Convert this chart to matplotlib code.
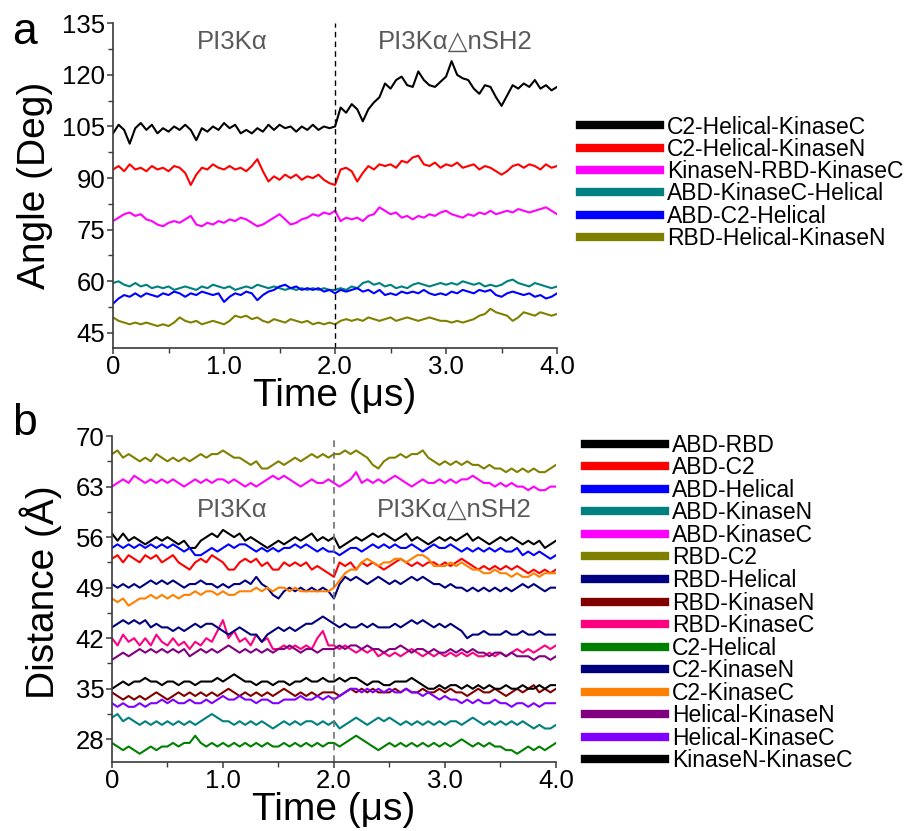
import numpy as np
import matplotlib
matplotlib.use("Agg")
import matplotlib.pyplot as plt
from matplotlib.ticker import MultipleLocator, FixedLocator

plt.rcParams['font.family'] = ['Liberation Sans', 'DejaVu Sans']

# ---------------- data ----------------
time = np.linspace(0.0, 4.0, 81)  # microseconds, 0.05 us step

# Panel a: angles (deg)
angle_labels = ["C2-Helical-KinaseC", "C2-Helical-KinaseN", "KinaseN-RBD-KinaseC",
                "ABD-KinaseC-Helical", "ABD-C2-Helical", "RBD-Helical-KinaseN"]
angle_colors = ["#000000", "#FF0000", "#FF00FF", "#008080", "#0000FF", "#808000"]

c2_helical_kinasec = [
    103, 105.5, 104, 100, 104.5, 106, 104, 105.5, 103, 104.5,
    103.5, 105, 104, 105.5, 104, 101, 104.5, 103.5, 105, 104,
    106, 104.5, 105.5, 103, 104, 103, 104.5, 103.5, 105.5, 104,
    105.5, 104.5, 105, 103.5, 105, 104, 105.5, 104, 105, 104.5,
    105, 110.5, 109, 111.5, 110, 106.5, 110, 112, 113.5, 117.5,
    116, 118.5, 119.5, 117, 116.5, 121, 118.5, 117, 116.5, 118,
    119.5, 124, 120, 119, 118.5, 116, 114.5, 117, 116.5, 113.5,
    111, 114, 117, 116, 117.5, 116.5, 118.5, 116, 117, 115.5, 116.5]
c2_helical_kinasen = [
    92.5, 93.5, 92, 94, 92.5, 93, 92, 93.5, 92.5, 93,
    92, 93.5, 93, 91.5, 88, 91, 93, 92.5, 94, 93,
    92.5, 93.5, 92.5, 93, 92, 93.5, 95.5, 92, 89, 90.5,
    89.5, 91, 90, 91, 89.5, 90.5, 90, 91, 89.5, 88.5,
    88, 92.5, 93, 92, 89, 91.5, 93.5, 92.5, 94, 93.5,
    94, 93, 95, 94.5, 96, 96.5, 94, 93.5, 94.5, 93,
    94, 93.5, 94.5, 93, 93.5, 94, 92.5, 93.5, 93, 92,
    91, 92, 93.5, 94, 93, 94, 93.5, 92.5, 94, 93, 93.5]
kinasen_rbd_kinasec = [
    77.5, 78.5, 79.5, 80, 79, 79.5, 78, 77.5, 76.5, 76,
    77, 77.5, 77, 78, 79, 76.5, 76, 77, 76.5, 77.5,
    77, 78, 77.5, 78.5, 78, 77, 76, 76.5, 77.5, 78.5,
    79.5, 78, 76.5, 77, 78, 78.5, 79.5, 79, 80, 79.5,
    80.5, 77.5, 78.5, 78, 78.5, 77.5, 79, 79.5, 81.5, 80.5,
    79.5, 80, 78.5, 79, 78, 79, 78.5, 79.5, 79, 80,
    80.5, 79.5, 79, 78.5, 79.5, 79, 80, 79.5, 80.5, 79.5,
    80, 80.5, 80, 81, 80.5, 80, 80.5, 81, 81.5, 80.5, 79.5]
abd_kinasec_helical = [
    59.5, 60, 59, 58.5, 59.5, 58.5, 59, 58, 58.5, 58,
    58.5, 57.5, 58, 58.5, 58, 57.5, 58.5, 58, 59, 58.5,
    58, 58.5, 57.5, 58, 58.5, 58, 59, 58.5, 58, 58.5,
    58, 57.5, 58, 57.5, 58, 57.5, 58, 57.5, 58, 57.5,
    57.5, 58, 57.5, 58.5, 58, 59.5, 60, 59, 59.5, 58.5,
    59, 58, 58.5, 58, 59, 59.5, 59, 58.5, 59, 59.5,
    59, 59.5, 59, 60, 59.5, 59, 59.5, 58.5, 59, 58.5,
    59, 60, 60.5, 59.5, 59, 58.5, 59.5, 59, 58.5, 58, 58.5]
abd_c2_helical = [
    53.5, 55, 56, 55.5, 56.5, 55.5, 56.5, 56, 55.5, 56.5,
    56, 57, 56.5, 55.5, 56.5, 56, 57, 56.5, 56, 56.5,
    54, 55.5, 56.5, 56, 57, 56.5, 54.5, 56, 57, 57.5,
    58.5, 59, 58, 58.5, 57.5, 58, 57.5, 58, 57, 57.5,
    56.5, 57.5, 57, 57.5, 58, 57, 57.5, 56.5, 57.5, 56,
    56.5, 56, 57, 56.5, 57, 56.5, 57.5, 56.5, 56, 56.5,
    56, 57, 56.5, 57.5, 57, 56.5, 57.5, 57, 57.5, 56,
    55.5, 56.5, 57, 56.5, 56, 56.5, 55.5, 56, 55, 55.5, 56.5]
rbd_helical_kinasen = [
    49.5, 48.5, 48, 47.5, 48, 47.5, 48, 47.5, 47, 47.5,
    47, 48, 49.5, 48.5, 48, 48.5, 47.5, 48, 48.5, 48,
    47.5, 48.5, 50, 49.5, 50, 49, 49.5, 48.5, 48, 49,
    48.5, 48, 49, 48.5, 48, 48.5, 47.5, 48, 47.5, 48,
    47.5, 48.5, 49, 48.5, 49, 48.5, 49.5, 49, 48.5, 49,
    49.5, 48.5, 49, 49.5, 49, 48.5, 49, 49.5, 49, 48.5,
    48.5, 48, 48.5, 48, 48.5, 49, 50, 50.5, 52, 51,
    50.5, 50, 48.5, 49.5, 51, 50.5, 50, 51, 50.5, 50, 50.5]
angle_series = [c2_helical_kinasec, c2_helical_kinasen, kinasen_rbd_kinasec,
                abd_kinasec_helical, abd_c2_helical, rbd_helical_kinasen]

# Panel b: distances (Angstrom)
dist_labels = ["ABD-RBD", "ABD-C2", "ABD-Helical", "ABD-KinaseN", "ABD-KinaseC",
               "RBD-C2", "RBD-Helical", "RBD-KinaseN", "RBD-KinaseC", "C2-Helical",
               "C2-KinaseN", "C2-KinaseC", "Helical-KinaseN", "Helical-KinaseC",
               "KinaseN-KinaseC"]
dist_colors = ["#000000", "#FF0000", "#0000FF", "#008080", "#FF00FF",
               "#808000", "#000080", "#800000", "#FF0080", "#008000",
               "#00007F", "#FF8000", "#800080", "#8000FF", "#000000"]

abd_rbd = [
    56.5, 55.5, 56.5, 55.5, 56, 55.5, 55, 55.5, 56, 55.5,
    56, 55.5, 55, 55.5, 54.5, 54.5, 55.5, 56, 56.5, 56,
    57, 56.5, 56, 56.5, 55.5, 56, 55.5, 55, 54.5, 55,
    55.5, 55, 55.5, 56, 55.5, 56, 56.5, 55.5, 56, 55.5,
    56, 54.5, 55, 55.5, 56, 55.5, 56, 56.5, 56, 56.5,
    56, 55.5, 56, 56.5, 55.5, 56, 55.5, 55, 55.5, 56,
    55.5, 56, 55.5, 56, 56.5, 55.5, 56, 55.5, 55, 55.5,
    56, 55.5, 56, 55.5, 55, 55.5, 55, 55.5, 54.5, 55, 55.5]
abd_c2 = [
    53, 53.5, 52.5, 53.5, 53, 52.5, 53.5, 53, 53.5, 52.5,
    53, 53.5, 52.5, 52, 51.5, 52.5, 53, 52.5, 53.5, 53,
    52.5, 51.5, 51.5, 52.5, 53, 52.5, 53, 52, 52.5, 51.5,
    51.5, 52.5, 52, 52.5, 52, 52.5, 51.5, 52, 51.5, 51,
    50.5, 52.5, 52, 52.5, 51.5, 52.5, 52, 52.5, 52, 51.5,
    52, 52.5, 53, 52.5, 52, 52.5, 52, 52.5, 52.5, 52,
    52.5, 52, 52.5, 53, 52.5, 52, 51.5, 52, 51.5, 52,
    51.5, 52, 51.5, 52, 51.5, 51, 51.5, 51, 51.5, 51, 51.5]
abd_helical = [
    54.5, 55, 54.5, 55, 54.5, 55, 54.5, 55, 54.5, 55,
    54.5, 55, 54.5, 54, 54.5, 53.5, 53.5, 54, 54.5, 54,
    54.5, 55, 54.5, 55, 55, 54.5, 54, 54.5, 54, 54.5,
    54, 54.5, 54.5, 55, 54.5, 55, 54.5, 54, 54.5, 54,
    54, 53.5, 54, 54.5, 54.5, 54, 54.5, 55, 54.5, 55,
    54.5, 55, 54.5, 54.5, 55, 54.5, 54, 54.5, 55, 54.5,
    54.5, 55, 54.5, 54, 54.5, 54, 54.5, 54, 54.5, 54,
    54.5, 54, 54, 54.5, 53.5, 54, 53.5, 54, 53.5, 53, 53.5]
abd_kinasen = [
    31, 31.5, 30.5, 31, 30.5, 30, 30.5, 30, 30.5, 30,
    30.5, 30, 30.5, 30, 30.5, 30, 30.5, 31, 31.5, 31,
    30.5, 30.5, 30, 30.5, 30, 30.5, 30, 30.5, 30, 29.5,
    30, 30.5, 30, 30.5, 30, 30.5, 30.5, 30, 30.5, 30,
    30.5, 29.5, 30, 30.5, 31, 30.5, 30, 30.5, 31, 30.5,
    31, 30.5, 30, 30.5, 30, 30.5, 30, 30.5, 30, 30.5,
    30, 30.5, 30.5, 30, 30.5, 31, 30.5, 30, 30.5, 30,
    30.5, 30, 30.5, 30, 30.5, 30, 29.5, 30, 29.5, 29.5, 30]
abd_kinasec = [
    63, 63.5, 64, 63.5, 64.5, 64, 63.5, 64, 63.5, 64,
    63.5, 64, 63.5, 63, 63.5, 64, 63.5, 64, 63.5, 64,
    64, 63.5, 64, 63.5, 63, 63.5, 63, 63.5, 64, 64.5,
    64, 64.5, 64, 63.5, 63, 63.5, 64, 63.5, 63.5, 64,
    63.5, 63, 63.5, 64, 65, 63.5, 64, 63.5, 64, 63.5,
    64, 64.5, 64, 63.5, 63, 63.5, 64, 63.5, 63.5, 64,
    63.5, 64, 63.5, 64, 64, 64.5, 64, 63.5, 63.5, 63,
    63.5, 63, 63.5, 63, 63, 62.5, 63, 62.5, 62.5, 63, 63]
rbd_c2 = [
    67.5, 68, 67, 67.5, 67, 66.5, 67, 66.5, 67.5, 67,
    66.5, 67, 66.5, 67, 66.5, 67, 67.5, 67, 67.5, 67.5,
    68, 67.5, 67, 67, 66.5, 66, 66.5, 65.5, 65.5, 66,
    66.5, 66, 66.5, 67, 66.5, 67, 67.5, 67, 67.5, 67,
    67.5, 67.5, 68, 67.5, 68, 67.5, 67, 66, 65.5, 66.5,
    67, 67, 67.5, 67, 67.5, 67.5, 68, 67, 66.5, 66,
    66.5, 66, 66.5, 66, 66.5, 66, 66, 65.5, 66, 65.5,
    65.5, 65, 65.5, 65, 65.5, 65, 65.5, 65, 65, 65.5, 66]
rbd_helical = [
    49.5, 49, 49.5, 49, 49.5, 49, 49.5, 50, 49.5, 50,
    49.5, 50, 49.5, 49, 49.5, 49.5, 50, 49.5, 49.5, 49,
    49.5, 49, 49.5, 49.5, 50, 49.5, 50.5, 49.5, 49, 48,
    47.5, 48.5, 49, 48.5, 49, 48.5, 49, 48.5, 49, 48.5,
    47.5, 49.5, 50.5, 50, 50.5, 50, 49.5, 50, 50.5, 50,
    49.5, 50, 49.5, 50, 50.5, 50, 50.5, 50, 49.5, 49.5,
    49, 49.5, 49, 49, 48.5, 49, 48.5, 49, 48.5, 49,
    48.5, 49, 48.5, 49, 49.5, 49, 49.5, 49, 48.5, 49, 49]
rbd_kinasen = [
    34.5, 34, 33.5, 34, 33.5, 34, 33.5, 34, 34.5, 34,
    33.5, 34, 34.5, 34, 34.5, 34, 34.5, 34, 34.5, 34,
    34.5, 35, 34.5, 34, 34.5, 34, 34.5, 34, 34.5, 34,
    34.5, 35, 34.5, 34, 34.5, 34, 34.5, 34, 34.5, 34.5,
    34.5, 34, 34.5, 35, 34.5, 35, 34.5, 35, 34.5, 34.5,
    34.5, 35, 34.5, 35, 34.5, 34.5, 35, 34.5, 34.5, 35,
    34.5, 35, 34.5, 34.5, 34, 34.5, 35, 34.5, 34.5, 35,
    34.5, 34, 34.5, 35, 34.5, 35, 35.5, 34.5, 35, 34.5, 35]
rbd_kinasec = [
    42, 41, 42.5, 41.5, 42, 41, 42, 41, 42.5, 41.5,
    41, 42, 41, 41.5, 40.5, 41.5, 41, 42, 41.5, 43,
    44.5, 42, 43, 41.5, 42, 41, 42.5, 41.5, 42, 40.5,
    40.5, 41, 40.5, 41, 40.5, 41, 40.5, 42, 43, 41,
    41, 40.5, 41, 40.5, 40, 40.5, 40, 40.5, 39.5, 40,
    39.5, 40, 39.5, 40, 40.5, 40, 39.5, 40, 39.5, 40,
    39.5, 40, 39.5, 40, 39.5, 40, 39.5, 39.5, 40, 39.5,
    40, 39.5, 40, 40.5, 40, 40.5, 40, 40.5, 41, 40.5, 41]
c2_helical = [
    27.5, 27, 26.5, 27, 26.5, 26, 26.5, 27, 26.5, 27,
    27, 27.5, 27, 27.5, 27.5, 28.5, 27.5, 27, 27.5, 27,
    27.5, 27, 27.5, 27, 27.5, 27, 27.5, 27, 27.5, 27,
    27, 27.5, 27, 27.5, 27, 27.5, 27, 27.5, 27, 27.5,
    27.5, 27, 27.5, 28, 28.5, 28, 27.5, 27, 26.5, 27,
    27.5, 27, 27.5, 27, 27.5, 27, 27.5, 27, 27.5, 27,
    27.5, 27, 27.5, 28, 27.5, 27, 27.5, 27, 27.5, 27,
    27, 26.5, 26.5, 26, 26.5, 27, 26.5, 27, 26.5, 27, 27.5]
c2_kinasen = [
    43.5, 44, 44.5, 44, 44.5, 44, 44.5, 43.5, 44, 43.5,
    43.5, 43, 43.5, 43, 43.5, 44, 43.5, 44, 44, 43.5,
    43, 42.5, 43, 43.5, 43, 42.5, 42.5, 41.5, 42.5, 43,
    43.5, 43, 43.5, 43, 43.5, 44, 44, 44.5, 45, 44.5,
    44, 43.5, 44, 43.5, 43.5, 44, 43.5, 44, 43.5, 43.5,
    43.5, 44, 43.5, 44, 44.5, 44, 44.5, 44, 43.5, 44,
    43.5, 44, 43.5, 43, 42, 42.5, 42.5, 43, 42.5, 42.5,
    42.5, 43, 42.5, 42.5, 43, 42.5, 42.5, 43, 42.5, 42.5, 42.5]
c2_kinasec = [
    47.5, 47, 47.5, 46.5, 47, 47.5, 47.5, 48, 47.5, 48,
    47.5, 48, 47.5, 48, 48, 48.5, 48, 48.5, 48.5, 48,
    48.5, 48, 48, 48.5, 48.5, 48.5, 49, 48.5, 49, 48.5,
    49, 49, 48.5, 49, 48.5, 48.5, 48.5, 48.5, 48.5, 48.5,
    49, 50, 51, 51.5, 51.5, 52.5, 53, 52.5, 52, 52.5,
    52.5, 53, 53, 52.5, 53, 53.5, 53.5, 53, 52, 52,
    52, 52.5, 52, 52.5, 52, 51.5, 51.5, 51, 51, 51.5,
    51, 51, 50.5, 51, 50.5, 50.5, 51, 50.5, 51, 51, 51]
helical_kinasen = [
    39, 39.5, 40, 39.5, 40, 40.5, 40, 40.5, 40, 40.5,
    40, 40.5, 40, 40.5, 39.5, 40, 40.5, 40, 40.5, 40,
    40.5, 41, 40.5, 40, 40.5, 40, 40.5, 40, 40.5, 40,
    40.5, 40.5, 41, 40.5, 40, 40.5, 40.5, 40, 40.5, 40.5,
    40.5, 41, 40.5, 41, 41, 40.5, 41, 40.5, 40.5, 40,
    40.5, 40.5, 41, 40.5, 40, 40.5, 40.5, 40, 40.5, 40,
    40, 40.5, 40, 40.5, 40, 40.5, 40, 40, 39.5, 40,
    40, 39.5, 40, 39.5, 39.5, 39.5, 39, 39.5, 39.5, 39, 39.5]
helical_kinasec = [
    33, 32.5, 33, 32.5, 32.5, 33, 32.5, 33, 33, 33.5,
    33, 33.5, 33, 33, 33.5, 33, 33, 33.5, 33, 33.5,
    34, 33.5, 33.5, 34, 33.5, 33.5, 33, 33.5, 33.5, 33,
    33, 33.5, 33.5, 33.5, 34, 33.5, 33.5, 34, 33.5, 34,
    33.5, 34, 34.5, 35, 35, 34.5, 35, 34.5, 35, 34.5,
    35, 34.5, 34.5, 35, 34.5, 34.5, 34, 34.5, 34, 33.5,
    34, 33.5, 33.5, 33, 33.5, 33, 33.5, 33, 33, 33.5,
    33, 33, 32.5, 33, 33, 32.5, 33, 32.5, 33, 33, 33]
kinasen_kinasec = [
    35, 35.5, 36, 35.5, 36, 36, 36.5, 36, 36, 35.5,
    36, 36, 35.5, 36, 36, 35.5, 36, 36, 36, 36.5,
    36, 36.5, 37, 36.5, 36, 36, 35.5, 36, 36, 35.5,
    36, 36, 35.5, 36, 36, 36.5, 36, 36, 36.5, 36,
    36, 36.5, 36, 36.5, 36.5, 36, 35.5, 36, 36, 35.5,
    35.5, 36, 36, 36, 36.5, 36, 35.5, 35, 35, 35.5,
    35, 35.5, 35.5, 35, 35.5, 35, 35.5, 35, 35.5, 35,
    35, 35.5, 35, 35, 35.5, 35, 35, 35.5, 35, 35.5, 35.5]
dist_series = [abd_rbd, abd_c2, abd_helical, abd_kinasen, abd_kinasec,
               rbd_c2, rbd_helical, rbd_kinasen, rbd_kinasec, c2_helical,
               c2_kinasen, c2_kinasec, helical_kinasen, helical_kinasec,
               kinasen_kinasec]

x_ticks = [0, 1.0, 2.0, 3.0, 4.0]
x_ticklabels = ["0", "1.0", "2.0", "3.0", "4.0"]
angle_ticks = [45, 60, 75, 90, 105, 120, 135]
dist_ticks = [28, 35, 42, 49, 56, 63, 70]

# ---------------- figure ----------------
fig = plt.figure(figsize=(9.08, 8.31), dpi=100)
ax1 = fig.add_axes([0.1245, 0.5816, 0.4890, 0.3904])
ax2 = fig.add_axes([0.1233, 0.0834, 0.4890, 0.3919])

spine_col = "#3a3a3a"
tick_fs = 18.5
label_fs = 28
leg_fs = 16.5


def style_axis(ax):
    for s in ("top", "right"):
        ax.spines[s].set_visible(False)
    for s in ("left", "bottom"):
        ax.spines[s].set_color(spine_col)
        ax.spines[s].set_linewidth(1.2)
    ax.tick_params(which="major", direction="out", length=4.5, width=1.1,
                   color=spine_col, labelsize=tick_fs, pad=1)
    ax.tick_params(which="minor", direction="out", length=3.5, width=1.0,
                   color=spine_col)
    ax.set_xlim(0, 4.0)
    ax.xaxis.set_major_locator(FixedLocator(x_ticks))
    ax.set_xticklabels(x_ticklabels)
    ax.xaxis.set_minor_locator(MultipleLocator(0.5))
    ax.set_xlabel("Time (μs)", fontsize=label_fs, labelpad=-1)


# Panel a
for vals, col, lab in zip(angle_series, angle_colors, angle_labels):
    ax1.plot(time, vals, color=col, lw=1.5, label=lab)
ax1.axvline(2.0, color="#000000", lw=1.0, ls=(0, (4, 3)))
style_axis(ax1)
ax1.set_ylim(40.7, 135)
ax1.yaxis.set_major_locator(FixedLocator(angle_ticks))
ax1.yaxis.set_minor_locator(MultipleLocator(7.5))
ax1.set_ylabel("Angle (Deg)", fontsize=label_fs)
ax1.yaxis.set_label_coords(-0.135, 0.5)
ax1.text(1.075, 129.6, "PI3Kα", color="#5a5a5a", fontsize=18.5,
         ha="center", va="center")
ax1.text(3.08, 129.6, "PI3Kα△nSH2", color="#5a5a5a", fontsize=18.5,
         ha="center", va="center")
leg1 = ax1.legend(loc="upper left", bbox_to_anchor=(0.6385, 0.861),
                  bbox_transform=fig.transFigure, frameon=False,
                  fontsize=leg_fs, handlelength=3.5, handletextpad=0.3,
                  labelspacing=-0.03, borderpad=0, borderaxespad=0)
for h in leg1.legend_handles:
    h.set_linewidth(6)

# Panel b
for vals, col, lab in zip(dist_series, dist_colors, dist_labels):
    ax2.plot(time, vals, color=col, lw=1.5, label=lab)
ax2.axvline(2.0, color="#707070", lw=1.2, ls=(0, (4, 3)))
style_axis(ax2)
ax2.set_ylim(24.9, 70)
ax2.yaxis.set_major_locator(FixedLocator(dist_ticks))
ax2.yaxis.set_minor_locator(MultipleLocator(3.5))
ax2.set_ylabel("Distance (Å)", fontsize=label_fs)
ax2.yaxis.set_label_coords(-0.113, 0.52)
ax2.text(1.08, 59.75, "PI3Kα", color="#5a5a5a", fontsize=18.5,
         ha="center", va="center")
ax2.text(3.08, 59.75, "PI3Kα△nSH2", color="#5a5a5a", fontsize=18.5,
         ha="center", va="center")
leg2 = ax2.legend(loc="upper left", bbox_to_anchor=(0.6445, 0.478),
                  bbox_transform=fig.transFigure, frameon=False,
                  fontsize=leg_fs, handlelength=3.5, handletextpad=0.3,
                  labelspacing=-0.02, borderpad=0, borderaxespad=0)
for h in leg2.legend_handles:
    h.set_linewidth(6)

fig.text(0.013, 0.985, "a", fontsize=32, va="top", ha="left")
fig.text(0.013, 0.515, "b", fontsize=32, va="top", ha="left")

fig.savefig("out.png", dpi=100)
